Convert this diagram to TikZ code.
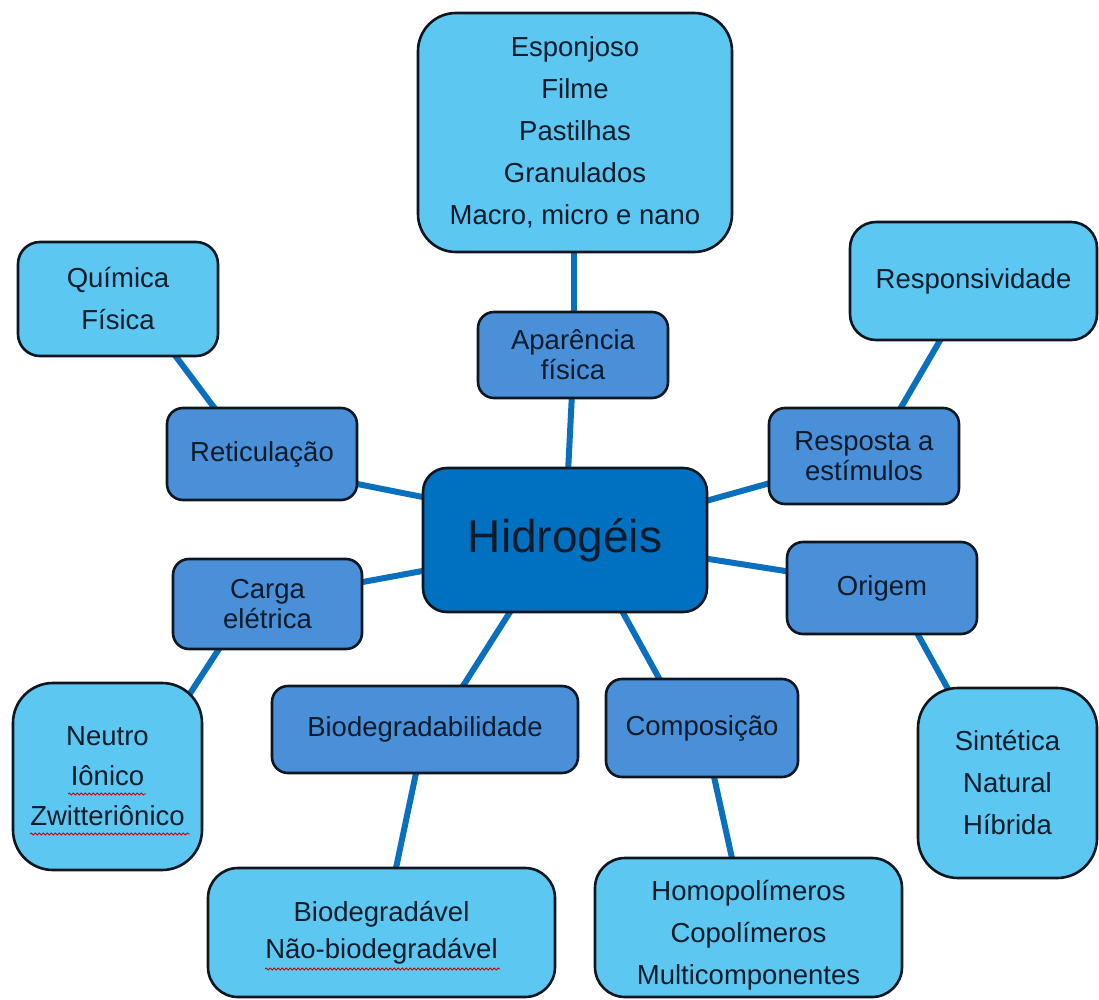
\documentclass[tikz,border=0pt]{standalone}
\usepackage{fontspec}
\setmainfont{Liberation Sans}
\usetikzlibrary{calc,decorations.pathmorphing,backgrounds}
\definecolor{lite}{HTML}{5CC8F2}
\definecolor{mid}{HTML}{4A90D9}
\definecolor{hubfill}{HTML}{0070C0}
\definecolor{linkcol}{HTML}{0A70BE}
\definecolor{edge}{HTML}{0E1620}
\definecolor{ink}{HTML}{0D1B2A}

\begin{document}
\begin{tikzpicture}[x=1pt,y=-1pt,
  card/.style={draw=edge, line width=2.6pt, align=center, inner sep=0pt, text=ink,
    font=\fontsize{27.5}{42}\selectfont},
  leaf/.style={card, fill=lite},
  topic/.style={card, fill=mid, font=\fontsize{27.5}{30}\selectfont, rounded corners=16},
  hub/.style={card, fill=hubfill, font=\fontsize{46}{50}\selectfont, rounded corners=24},
  link/.style={draw=linkcol, line width=6pt},
  typo/.style={draw=red!80!black, line width=0.8pt, decorate,
    decoration={snake, segment length=4pt, amplitude=1pt}}
]
\clip (0,0) rectangle (1099,1000);

% central concept
\node[hub, minimum width=284, minimum height=144] (hid) at (565,540) {Hidrogéis};

% categories
\node[topic, minimum width=190, minimum height=86] (aparencia) at (573,355) {Aparência\\física};
\node[topic, minimum width=190, minimum height=92] (ret) at (262,454) {Reticulação};
\node[topic, minimum width=190, minimum height=96] (estim) at (864,456) {Resposta a\\estímulos};
\node[topic, minimum width=189, minimum height=90] (carga) at (267.5,604) {Carga\\elétrica};
\node[topic, minimum width=190, minimum height=92] (origem) at (882,588) {Origem};
\node[topic, minimum width=306, minimum height=87] (biod) at (425,729.5) {Biodegradabilidade};
\node[topic, minimum width=192, minimum height=98] (comp) at (702,728) {Composição};

% details
\node[leaf, minimum width=314, minimum height=239, rounded corners=38] (forma) at (575,132.5)
  {Esponjoso\\Filme\\Pastilhas\\Granulados\\Macro, micro e nano};
\node[leaf, minimum width=200, minimum height=114, rounded corners=22] (quim) at (118,299)
  {Química\\Física};
\node[leaf, minimum width=247, minimum height=118, rounded corners=26] (respv) at (973.5,281)
  {Responsividade};
\node[leaf, minimum width=189, minimum height=187, rounded corners=40,
  font=\fontsize{27.5}{40}\selectfont] (neutro) at (107.5,776.5)
  {Neutro\\Iônico\\Zwitteriônico};
\node[leaf, minimum width=179, minimum height=190, rounded corners=40] (sint) at (1007.5,783)
  {Sintética\\Natural\\Híbrida};
\node[leaf, minimum width=347, minimum height=129, rounded corners=30,
  font=\fontsize{27.5}{37}\selectfont] (bdv) at (381.5,932.5)
  {Biodegradável\\Não-biodegradável};
\node[leaf, minimum width=307, minimum height=139, rounded corners=30] (homo) at (748.5,927.5)
  {\rule{0pt}{36pt}Homopolímeros\\Copolímeros\\Multicomponentes};

% connectors, behind the boxes
\begin{scope}[on background layer]
  \fill[white] (0,0) rectangle (1099,1000);
  \draw[link] ($(forma.south)+(-1,-6)$) -- ($(aparencia.north)+(1,6)$);
  \draw[link] ($(aparencia.south)+(-1,-6)$) -- ($(hid.north)+(3,6)$);
  \draw[link] ($(quim.south)+(54,-6)$) -- ($(ret.north)+(-44,6)$);
  \draw[link] ($(ret.east)+(-6,29)$) -- ($(hid.west)+(6,-42)$);
  \draw[link] ($(respv.south)+(-30.5,-6)$) -- ($(estim.north)+(34,6)$);
  \draw[link] ($(estim.west)+(6,26)$) -- ($(hid.east)+(-6,-38)$);
  \draw[link] ($(carga.east)+(-6,-21)$) -- ($(hid.west)+(6,30)$);
  \draw[link] ($(carga.south)+(-45.5,-6)$) -- ($(neutro.north east)+(-16,16)$);
  \draw[link] ($(origem.west)+(6,-16)$) -- ($(hid.east)+(-6,18)$);
  \draw[link] ($(origem.south)+(33,-6)$) -- ($(sint.north)+(-57.5,6)$);
  \draw[link] ($(hid.south)+(-52,-6)$) -- ($(biod.north)+(35,6)$);
  \draw[link] ($(hid.south)+(55,-6)$) -- ($(comp.north)+(-40,6)$);
  \draw[link] ($(biod.south)+(-8,-6)$) -- ($(bdv.north)+(13.5,6)$);
  \draw[link] ($(comp.south)+(11,-6)$) -- ($(homo.north)+(-15.5,6)$);
\end{scope}

% spell-check marks under flagged words
\draw[typo] (68,794) -- (146,794);
\draw[typo] (30,834) -- (190,834);
\draw[typo] (265,969) -- (500,969);
\end{tikzpicture}
\end{document}
